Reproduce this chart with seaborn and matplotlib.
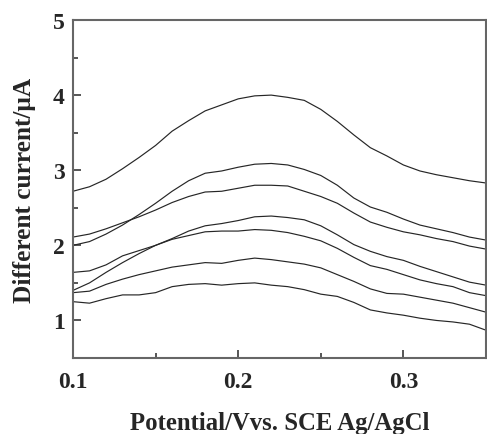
import matplotlib
matplotlib.use("Agg")
import matplotlib.pyplot as plt
from matplotlib.ticker import MultipleLocator
import seaborn as sns
import pandas as pd

potential = [0.10, 0.11, 0.12, 0.13, 0.14, 0.15, 0.16, 0.17, 0.18, 0.19, 0.20, 0.21, 0.22,
             0.23, 0.24, 0.25, 0.26, 0.27, 0.28, 0.29, 0.30, 0.31, 0.32, 0.33, 0.34, 0.35]

curve_a = [2.72, 2.78, 2.88, 3.02, 3.17, 3.33, 3.52, 3.66, 3.79, 3.87, 3.95, 3.99, 4.00,
           3.97, 3.93, 3.81, 3.65, 3.47, 3.30, 3.19, 3.07, 2.99, 2.94, 2.90, 2.86, 2.83]
curve_b = [2.00, 2.05, 2.15, 2.27, 2.41, 2.56, 2.72, 2.86, 2.96, 2.99, 3.04, 3.08, 3.09,
           3.07, 3.01, 2.93, 2.80, 2.63, 2.51, 2.44, 2.35, 2.27, 2.22, 2.17, 2.11, 2.07]
curve_c = [2.11, 2.15, 2.22, 2.30, 2.38, 2.47, 2.57, 2.65, 2.71, 2.72, 2.76, 2.80, 2.80,
           2.79, 2.72, 2.65, 2.56, 2.43, 2.31, 2.24, 2.18, 2.14, 2.09, 2.05, 1.99, 1.95]
curve_d = [1.40, 1.50, 1.64, 1.77, 1.89, 2.00, 2.09, 2.19, 2.26, 2.29, 2.33, 2.38, 2.39,
           2.37, 2.34, 2.26, 2.14, 2.01, 1.92, 1.85, 1.80, 1.72, 1.65, 1.58, 1.51, 1.47]
curve_e = [1.64, 1.66, 1.74, 1.86, 1.93, 2.00, 2.08, 2.13, 2.18, 2.19, 2.19, 2.21, 2.20,
           2.17, 2.12, 2.06, 1.96, 1.84, 1.73, 1.68, 1.61, 1.54, 1.49, 1.45, 1.37, 1.33]
curve_f = [1.37, 1.39, 1.48, 1.55, 1.61, 1.66, 1.71, 1.74, 1.77, 1.76, 1.80, 1.83, 1.81,
           1.78, 1.75, 1.70, 1.61, 1.52, 1.42, 1.36, 1.35, 1.31, 1.27, 1.23, 1.17, 1.11]
curve_g = [1.25, 1.23, 1.29, 1.34, 1.34, 1.37, 1.45, 1.48, 1.49, 1.47, 1.49, 1.50, 1.47,
           1.45, 1.41, 1.35, 1.32, 1.24, 1.14, 1.10, 1.07, 1.03, 1.00, 0.98, 0.95, 0.87]

curves = {"a": curve_a, "b": curve_b, "c": curve_c, "d": curve_d,
          "e": curve_e, "f": curve_f, "g": curve_g}

x_ticks = [0.1, 0.2, 0.3]
x_tick_labels = ["0.1", "0.2", "0.3"]
y_ticks = [1, 2, 3, 4, 5]
y_tick_labels = ["1", "2", "3", "4", "5"]

rows = []
for name, vals in curves.items():
    for xv, yv in zip(potential, vals):
        rows.append({"potential": xv, "current": yv, "curve": name})
df = pd.DataFrame(rows)

sns.set_style("ticks")
plt.rcParams["font.family"] = ["Liberation Serif", "DejaVu Serif"]
plt.rcParams["font.weight"] = "bold"

fig = plt.figure(figsize=(4.87, 4.35), dpi=100)
ax = fig.add_axes([73 / 487, 1 - 359 / 435, (486 - 73) / 487, (359 - 21) / 435])

sns.lineplot(data=df, x="potential", y="current", hue="curve",
             palette=["#262626"] * len(curves), linewidth=0.85, legend=False, ax=ax)

ax.set_xlim(0.1, 0.35)
ax.set_ylim(0.5, 5)
ax.set_xticks(x_ticks)
ax.set_xticklabels(x_tick_labels)
ax.set_yticks(y_ticks)
ax.set_yticklabels(y_tick_labels)
ax.xaxis.set_minor_locator(MultipleLocator(0.05))
ax.yaxis.set_minor_locator(MultipleLocator(0.5))

ax.tick_params(axis="both", which="major", direction="in", length=5.5, width=1.4,
               color="#555555", labelsize=17)
ax.tick_params(axis="x", which="major", pad=9.5)
ax.tick_params(axis="y", which="major", pad=6)
ax.tick_params(axis="both", which="minor", direction="in", length=3.5, width=1.4,
               color="#555555")
for lab in ax.get_xticklabels() + ax.get_yticklabels():
    lab.set_fontweight("bold")

for side in ["left", "right", "top", "bottom"]:
    ax.spines[side].set_visible(True)
    ax.spines[side].set_color("#666666")
    ax.spines[side].set_linewidth(1.5)

ax.set_xlabel("Potential/Vvs. SCE Ag/AgCl", fontsize=17.8, fontweight="bold", labelpad=13.5)
ax.set_ylabel("Different current/\u03bcA", fontsize=18.3, fontweight="bold", labelpad=12)

fig.savefig("out.png", dpi=100, facecolor="white")
